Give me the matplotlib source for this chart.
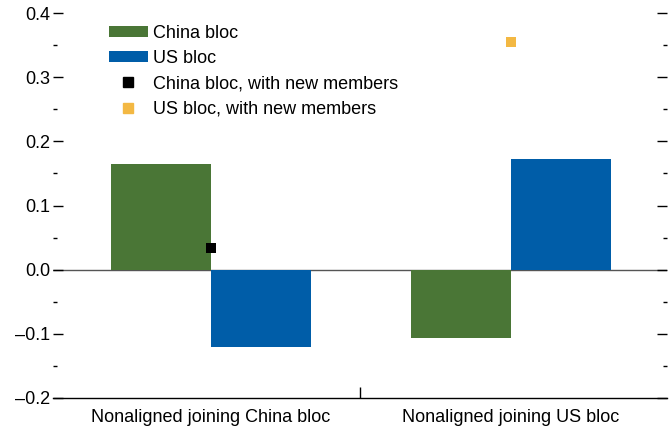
import matplotlib
matplotlib.use("Agg")
import matplotlib.pyplot as plt
import numpy as np
from matplotlib.patches import Patch
from matplotlib.lines import Line2D
from matplotlib.ticker import MultipleLocator, FixedLocator

plt.rcParams["font.family"] = ["Liberation Sans Narrow", "Liberation Sans", "DejaVu Sans"]

CATEGORIES = ["Nonaligned joining China bloc", "Nonaligned joining US bloc"]
CHINA_BLOC = [0.165, -0.106]
US_BLOC = [-0.120, 0.173]
CHINA_NEW = [0.034, None]
US_NEW = [None, 0.355]

GREEN, BLUE, YELLOW = "#4a7636", "#005da8", "#f3b843"

fig = plt.figure(figsize=(6.72, 4.30), dpi=100)
ax = fig.add_axes([53 / 672, 32 / 430, 614 / 672, 385 / 430])

x = np.arange(len(CATEGORIES))
w = 0.333
ax.bar(x - w / 2, CHINA_BLOC, w, color=GREEN, zorder=2)
ax.bar(x + w / 2, US_BLOC, w, color=BLUE, zorder=2)
for xi, v in zip(x, CHINA_NEW):
    if v is not None:
        ax.scatter(xi, v, marker="s", s=52, color="black", zorder=3, linewidths=0)
for xi, v in zip(x, US_NEW):
    if v is not None:
        ax.scatter(xi, v, marker="s", s=52, color=YELLOW, zorder=3, linewidths=0)

ax.axhline(0, color="#555555", lw=1.0, zorder=1)

ax.set_xlim(-0.527, 1.52)
ax.set_ylim(-0.2, 0.4)
for s in ["top", "left", "right"]:
    ax.spines[s].set_visible(False)
ax.spines["bottom"].set_linewidth(1.0)

yt = np.arange(-0.2, 0.41, 0.1)
ax.set_yticks(yt)
ax.set_yticklabels([f"{t:.1f}".replace("-", "\u2013") for t in yt])
ax.yaxis.set_minor_locator(MultipleLocator(0.05))
ax.tick_params(axis="y", which="major", direction="in", length=7, width=1,
               left=True, right=True, labelsize=13, pad=2)
ax.tick_params(axis="y", which="minor", direction="in", length=3, width=1,
               left=True, right=True)

ax.xaxis.set_major_locator(FixedLocator([0.497]))
ax.xaxis.set_minor_locator(FixedLocator(list(x)))
ax.set_xticklabels([""])
ax.set_xticklabels(CATEGORIES, minor=True)
ax.tick_params(axis="x", which="major", direction="in", length=8, width=1)
ax.tick_params(axis="x", which="minor", length=0, labelsize=13, pad=8)

handles = [
    Patch(facecolor=GREEN, label="China bloc"),
    Patch(facecolor=BLUE, label="US bloc"),
    Line2D([], [], marker="s", color="black", ls="none", markersize=7, label="China bloc, with new members"),
    Line2D([], [], marker="s", color=YELLOW, ls="none", markersize=7, label="US bloc, with new members"),
]
ax.legend(handles=handles, loc="upper left", bbox_to_anchor=(0.091, 0.97), frameon=False,
          fontsize=13, handlelength=2.17, handleheight=0.55, handletextpad=0.3,
          labelspacing=0.46, borderaxespad=0.0, borderpad=0.0)

fig.savefig("out.png", dpi=100)
